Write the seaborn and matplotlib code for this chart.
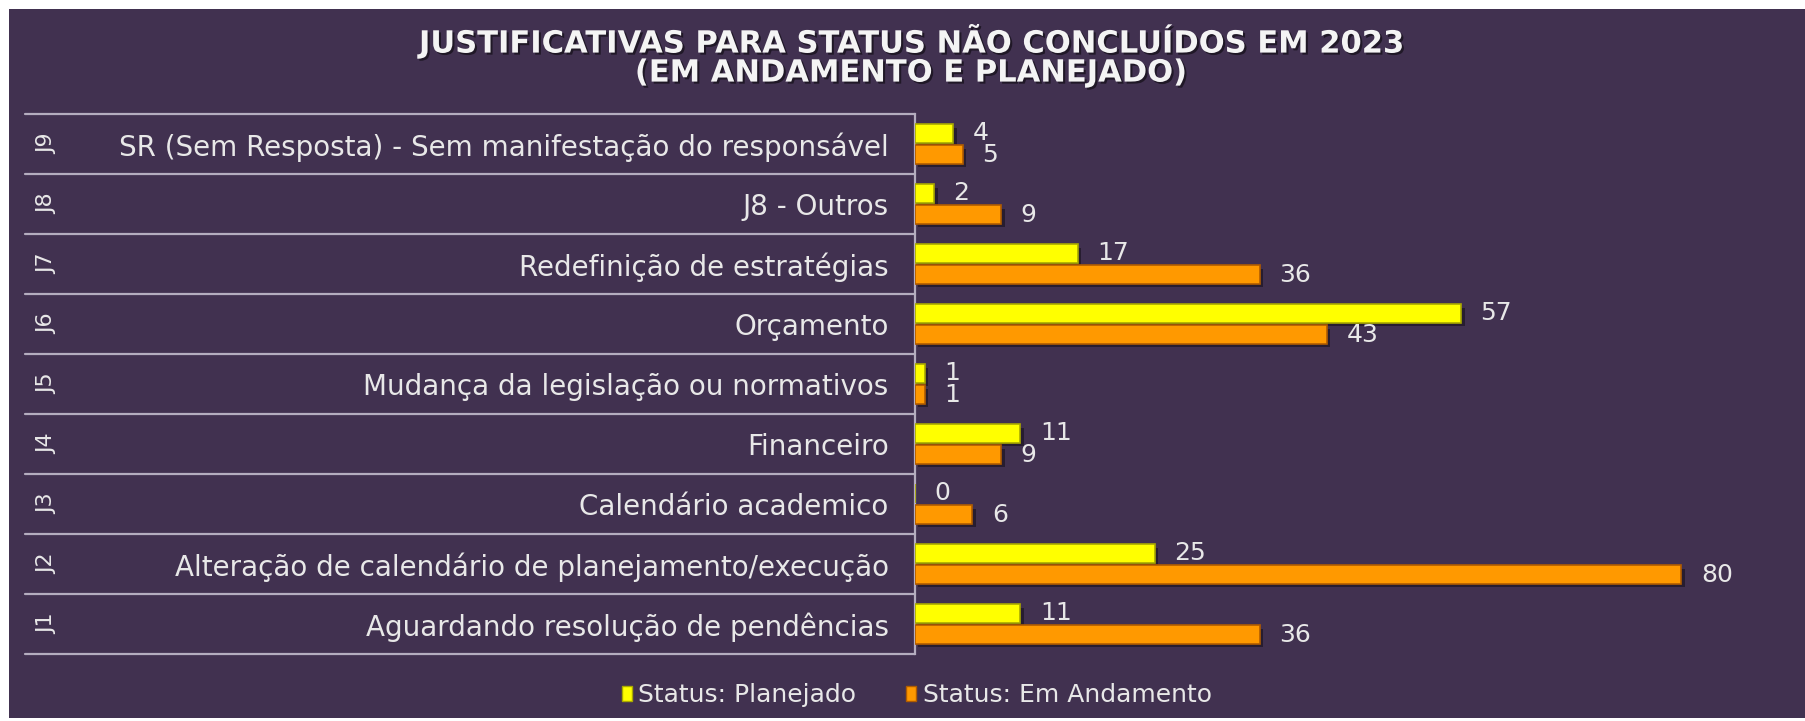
import numpy as np
import pandas as pd
import matplotlib
matplotlib.use("Agg")
import matplotlib.pyplot as plt
import seaborn as sns
from matplotlib import patheffects as pe
from matplotlib.patches import Rectangle
from matplotlib.lines import Line2D
from matplotlib.transforms import blended_transform_factory

# ---------------- data ----------------
codes = ["J9", "J8", "J7", "J6", "J5", "J4", "J3", "J2", "J1"]
categories = [
    "SR (Sem Resposta) - Sem manifestação do responsável",
    "J8 - Outros",
    "Redefinição de estratégias",
    "Orçamento",
    "Mudança da legislação ou normativos",
    "Financeiro",
    "Calendário academico",
    "Alteração de calendário de planejamento/execução",
    "Aguardando resolução de pendências",
]
planejado = [4, 2, 17, 57, 1, 11, 0, 25, 11]
em_andamento = [5, 9, 36, 43, 1, 9, 6, 80, 36]
series_names = ["Status: Planejado", "Status: Em Andamento"]
title = "JUSTIFICATIVAS PARA STATUS NÃO CONCLUÍDOS EM 2023\n(EM ANDAMENTO E PLANEJADO)"

# ---------------- style ----------------
sns.set_style("white")
plt.rcParams["font.family"] = ["DejaVu Sans"]

W, H, DPI = 1806, 721, 100
BG = "#413150"
TXT = "#e8e8e8"
LINE = "#b4adbf"

fig = plt.figure(figsize=(W / DPI, H / DPI), dpi=DPI, facecolor="white")
fig.patches.append(Rectangle((9 / W, 3 / H), 1 - 9 / W, 1 - 12 / H,
                             transform=fig.transFigure, facecolor=BG,
                             edgecolor="none", zorder=-10))

ax = fig.add_axes([915 / W, (H - 654) / H, (W - 915) / W, 540 / H])
ax.set_facecolor("none")

df = pd.DataFrame({
    "cat": categories * 2,
    "val": planejado + em_andamento,
    "status": [series_names[0]] * len(categories) + [series_names[1]] * len(categories),
})

sns.barplot(data=df, x="val", y="cat", hue="status", order=categories,
            hue_order=series_names, orient="h",
            palette=["#ffff00", "#ff9900"], saturation=1,
            width=0.7, gap=0.1, errorbar=None, ax=ax, zorder=3)

ax.set_xlim(0, 93)
ax.set_ylim(len(categories) - 0.5, -0.5)

edge_cols = ["#a9a900", "#b05c00"]
shadow = [pe.SimplePatchShadow(offset=(2.5, -2.5), shadow_rgbFace="black", alpha=0.4), pe.Normal()]
for cont, ec in zip(ax.containers, edge_cols):
    for bar in cont:
        bar.set_edgecolor(ec)
        bar.set_linewidth(1.2)
        bar.set_path_effects(shadow)
    ax.bar_label(cont, padding=14, color=TXT, fontsize=18)

# axes cosmetics
ax.set_xticks([])
ax.set_xlabel("")
ax.set_ylabel("")
ax.set_yticks(range(len(categories)))
ax.set_yticklabels(categories, fontsize=20, color=TXT)
ax.tick_params(axis="y", length=0, pad=19)
for s in ["top", "right", "bottom"]:
    ax.spines[s].set_visible(False)
ax.spines["left"].set_color(LINE)
ax.spines["left"].set_linewidth(1.6)

# table-like separators and codes
trans = blended_transform_factory(fig.transFigure, ax.transData)
for k in range(len(categories) + 1):
    ax.add_line(Line2D([25 / W, 915 / W], [k - 0.5, k - 0.5], transform=trans,
                       color=LINE, lw=1.6, clip_on=False))
for i, code in enumerate(codes):
    ax.text(47 / W, i, code, transform=trans, rotation=90, ha="center",
            va="center", fontsize=16, color=TXT)

# legend
handles, labels = ax.get_legend_handles_labels()
if ax.get_legend() is not None:
    ax.get_legend().remove()
leg = ax.legend(handles, labels, loc="center", bbox_to_anchor=(917 / W, (H - 695) / H),
                bbox_transform=fig.transFigure, ncol=2, frameon=False, fontsize=18,
                labelcolor=TXT, handlelength=0.4, handleheight=0.55,
                handletextpad=0.25, columnspacing=2.0)
for h, ec in zip(leg.legend_handles, edge_cols):
    h.set_edgecolor(ec)

# title
fig.text(910 / W, 1 - 56 / H, title, ha="center", va="center", fontsize=22,
         fontweight="bold", color="#f4f4f4", linespacing=1.0,
         path_effects=[pe.withSimplePatchShadow(offset=(1.5, -1.5),
                                                shadow_rgbFace="black", alpha=0.5)])

fig.savefig("out.png", dpi=DPI, facecolor="white")
